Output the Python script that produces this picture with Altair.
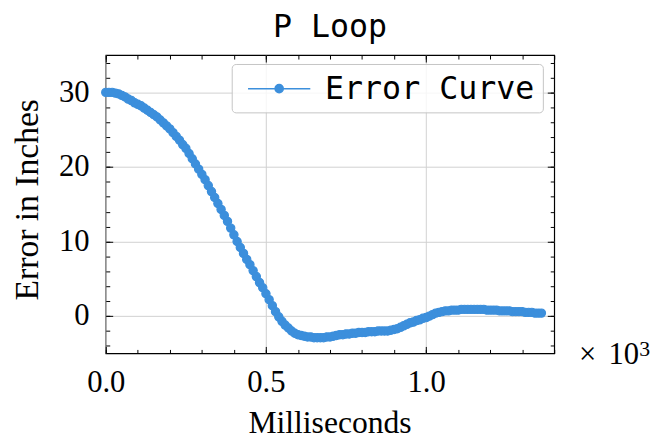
import altair as alt
import pandas as pd

# ---- data ----
ms = list(range(0, 1370, 10))
err = [
    30.0, 30.0, 30.0, 29.9, 29.8, 29.6, 29.4, 29.1, 28.9, 28.6,
    28.4, 28.2, 27.9, 27.6, 27.3, 27.0, 26.7, 26.3, 25.9, 25.5,
    25.1, 24.6, 24.1, 23.6, 23.0, 22.5, 21.8, 21.1, 20.4, 19.7,
    19.0, 18.3, 17.5, 16.7, 15.9, 15.1, 14.3, 13.5, 12.7, 11.8,
    10.9, 10.0, 9.2, 8.4, 7.6, 6.9, 6.1, 5.3, 4.5, 3.8,
    3.0, 2.2, 1.4, 0.6, -0.1, -0.7, -1.2, -1.6, -2.0, -2.3,
    -2.5, -2.6, -2.7, -2.8, -2.8, -2.9, -2.9, -2.9, -2.9, -2.8,
    -2.8, -2.7, -2.6, -2.5, -2.5, -2.4, -2.4, -2.3, -2.3, -2.2,
    -2.2, -2.2, -2.1, -2.1, -2.1, -2.0, -2.0, -2.0, -2.0, -1.9,
    -1.8, -1.7, -1.5, -1.3, -1.1, -0.9, -0.8, -0.6, -0.5, -0.3,
    -0.2, 0.0, 0.2, 0.4, 0.5, 0.6, 0.7, 0.7, 0.8, 0.8,
    0.8, 0.9, 0.9, 0.9, 0.9, 0.9, 0.9, 0.9, 0.9, 0.8,
    0.8, 0.8, 0.8, 0.7, 0.7, 0.7, 0.7, 0.6, 0.6, 0.6,
    0.6, 0.5, 0.5, 0.5, 0.4, 0.4, 0.4,
]
series = ["Error Curve"] * len(ms)
x_major = [0, 500, 1000]
x_minor = [0, 100, 200, 300, 400, 500, 600, 700, 800, 900, 1000, 1100, 1200, 1300, 1400]
y_major = [0, 10, 20, 30]
y_minor = [-4, -2, 0, 2, 4, 6, 8, 10, 12, 14, 16, 18, 20, 22, 24, 26, 28, 30, 32, 34]
x_domain = [0, 1400]
y_domain = [-5, 35]
offset_parts = ["\u00d7", "10", "3"]

# ---- style ----
W, H = 454, 302
BLUE = "#3c8fdc"
SERIF = "Liberation Serif"
MONO = "DejaVu Sans Mono"
GRID = "#d0d0d0"
MAJOR, MINOR = 7, 4

df = pd.DataFrame({"ms": ms, "err": err, "series": series})
xs = alt.Scale(domain=x_domain, nice=False, zero=False)
ys = alt.Scale(domain=y_domain, nice=False, zero=False)


def tick_axis(orient, values, size, offset):
    return alt.Axis(orient=orient, values=values, tickSize=size, tickWidth=1,
                    tickColor="black", labels=False, domain=False, grid=False,
                    offset=offset)


x_main = alt.Axis(orient="bottom", values=x_major, ticks=False, tickSize=0,
                  domain=False, grid=True, gridColor=GRID, gridWidth=1,
                  labelExpr="format(datum.value / 1000, '.1f')",
                  labelFont=SERIF, labelFontSize=31, labelColor="black",
                  labelPadding=39, labelBaseline="alphabetic", labelFlush=False,
                  titleFont=SERIF, titleFontSize=32, titleFontWeight="normal",
                  titleColor="black", titleX=226.5, titleY=80,
                  titleBaseline="alphabetic", titleAlign="center")
y_main = alt.Axis(orient="left", values=y_major, ticks=False, tickSize=0,
                  domain=False, grid=True, gridColor=GRID, gridWidth=1,
                  labelFont=SERIF, labelFontSize=31, labelColor="black",
                  labelPadding=17, labelFlush=False,
                  titleFont=SERIF, titleFontSize=34, titleFontWeight="normal",
                  titleColor="black", titleX=-69, titleY=146, titleAngle=270,
                  titleBaseline="alphabetic", titleAlign="center")

sym_path = "M-0.53,0L3.41,0M1.18,0A0.26,0.26,0,1,0,1.70,0A0.26,0.26,0,1,0,1.18,0Z"
legend = alt.Legend(title=None, orient="none", legendX=127.5, legendY=9,
                    padding=8, labelFont=MONO, labelFontSize=32,
                    labelColor="black", labelOffset=52.5, labelLimit=500,
                    symbolType=sym_path, symbolSize=1024, symbolStrokeWidth=1.5,
                    symbolFillColor=BLUE, symbolStrokeColor=BLUE,
                    fillColor="rgba(255,255,255,0.8)", strokeColor="#c4c4c4",
                    cornerRadius=4)

line = alt.Chart(df).mark_line(strokeWidth=1.5).encode(
    x=alt.X("ms:Q", scale=xs, axis=x_main, title="Milliseconds"),
    y=alt.Y("err:Q", scale=ys, axis=y_main, title="Error in Inches"),
    color=alt.Color("series:N", scale=alt.Scale(range=[BLUE]), legend=legend),
)

points = alt.Chart(df).mark_circle(size=70, opacity=1, color=BLUE,
                                   stroke=BLUE, strokeWidth=1.2).encode(
    x=alt.X("ms:Q", scale=xs, title="", axis=tick_axis("top", x_major, MAJOR, -H)),
    y=alt.Y("err:Q", scale=ys, title="", axis=tick_axis("right", y_major, MAJOR, -W)),
)

minor_bl = alt.Chart(df).mark_point(opacity=0).encode(
    x=alt.X("ms:Q", scale=xs, title="", axis=tick_axis("top", x_minor, MINOR, -H)),
    y=alt.Y("err:Q", scale=ys, title="", axis=tick_axis("right", y_minor, MINOR, -W)),
)
major_tr = alt.Chart(df).mark_point(opacity=0).encode(
    x=alt.X("ms:Q", scale=xs, title="", axis=tick_axis("bottom", x_major, MAJOR, -H)),
    y=alt.Y("err:Q", scale=ys, title="", axis=tick_axis("left", y_major, MAJOR, -W)),
)
minor_tr = alt.Chart(df).mark_point(opacity=0).encode(
    x=alt.X("ms:Q", scale=xs, title="", axis=tick_axis("bottom", x_minor, MINOR, -H)),
    y=alt.Y("err:Q", scale=ys, title="", axis=tick_axis("left", y_minor, MINOR, -W)),
)


def offset_piece(text, size, dx, dy):
    return alt.Chart(pd.DataFrame({"t": [text]})).mark_text(
        font=SERIF, fontSize=size, align="left", baseline="alphabetic", color="black"
    ).encode(text="t:N", x=alt.value(W + dx), y=alt.value(H + dy))


times_sign = offset_piece(offset_parts[0], 31, 25, 11)
ten = offset_piece(offset_parts[1], 31, 55, 11)
exponent = offset_piece(offset_parts[2], 22, 86, 3)

chart = alt.layer(line, points, minor_bl, major_tr, minor_tr,
                  times_sign, ten, exponent).resolve_axis(
    x="independent", y="independent"
).properties(
    width=W, height=H,
    title=alt.TitleParams("P Loop", font=MONO, fontSize=32, fontWeight="normal",
                          color="black", anchor="middle", offset=11),
    padding={"left": 99, "top": 45, "right": 99, "bottom": 84},
    autosize=alt.AutoSizeParams(type="none"),
    background="white",
).configure_view(stroke="black", strokeWidth=1.2)

chart.save("out.html", embed_options={"renderer": "svg", "actions": False})
